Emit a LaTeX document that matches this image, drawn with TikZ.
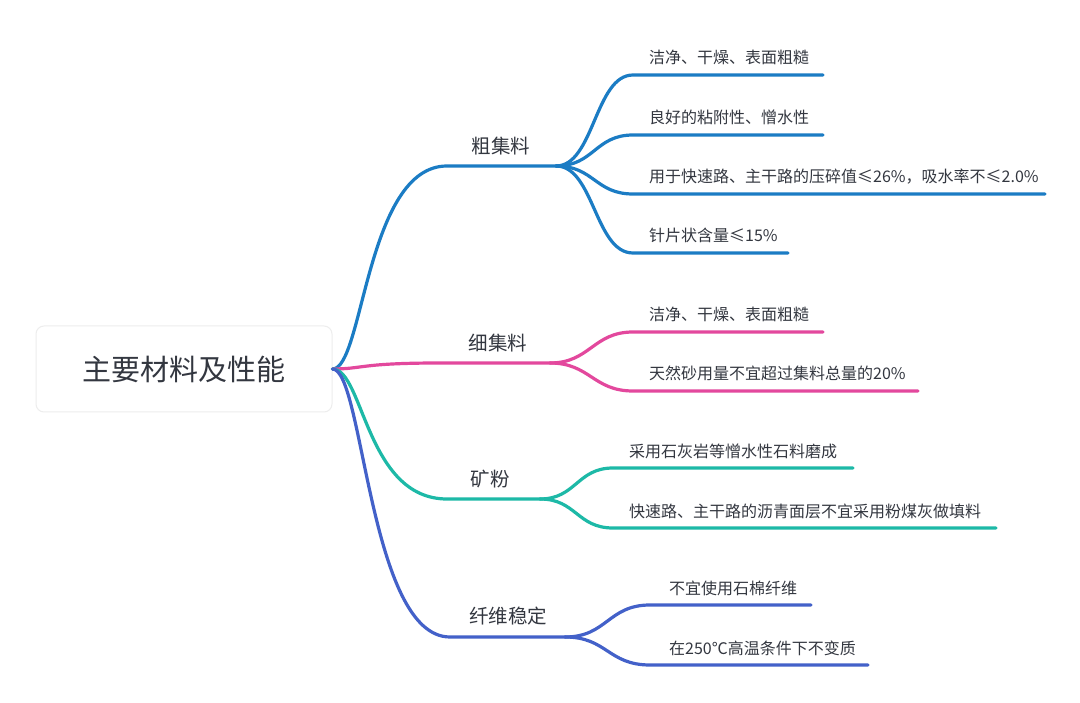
\documentclass[tikz,border=0pt]{standalone}
\usepackage{fontspec}
\newfontfamily\cjk{Noto Sans CJK SC}
\definecolor{txtgray}{HTML}{333740}
\definecolor{cublue}{HTML}{1B7CC4}
\definecolor{xipink}{HTML}{E3489D}
\definecolor{kfteal}{HTML}{1DB9A7}
\definecolor{xwindigo}{HTML}{4361C9}
\tikzset{
  branch/.style={line width=3.2pt, line cap=round},
  rootbox/.style={draw=black!7, line width=1pt, fill=white, rounded corners=8pt,
    minimum width=296pt, minimum height=86pt, inner sep=0pt,
    font=\cjk\fontsize{29}{30}\selectfont, text=txtgray},
  lvone/.style={anchor=base, inner sep=0pt,
    font=\cjk\fontsize{19.5}{20}\selectfont, text=txtgray},
  leaf/.style={anchor=base west, inner sep=0pt,
    font=\cjk\fontsize{16}{18}\selectfont, text=txtgray}
}
\begin{document}
\begin{tikzpicture}[x=1pt, y=-1pt]
  \useasboundingbox[fill=white] (0,0) rectangle (1080,703);

  \node[rootbox] (root) at (184,369) {主要材料及性能};

  \node[lvone] (cu) at (501,153.5) {粗集料};
  \coordinate (cu-in) at (447,166);
  \coordinate (cu-out) at (556,166);
  \draw[branch, cublue] (root.east) .. controls +(31,0) and +(-81,0) .. (cu-in) -- (cu-out);
  \foreach \i/\ly/\lx/\txt in {%
    1/75/823/{洁净、干燥、表面粗糙},
    2/135/823/{良好的粘附性、憎水性},
    3/194/1045/{用于快速路、主干路的压碎值≤26\%，吸水率不≤2.0\%},
    4/253/788/{针片状含量≤15\%}}{
    \coordinate (cu-\i-in) at (633,\ly);
    \coordinate (cu-\i-out) at (\lx,\ly);
    \node[leaf] (cu-\i) at (649,\ly-11) {\txt};
    \draw[branch, cublue] (cu-out) .. controls +(38,0) and +(-38,0) .. (cu-\i-in) -- (cu-\i-out);
  }

  \node[lvone] (xi) at (498,350.5) {细集料};
  \coordinate (xi-in) at (440,363);
  \coordinate (xi-out) at (550,363);
  \draw[branch, xipink] (root.east) .. controls +(31,0) and +(-81,0) .. (xi-in) -- (xi-out);
  \foreach \i/\ly/\lx/\txt in {%
    1/332/823/{洁净、干燥、表面粗糙},
    2/391/918/{天然砂用量不宜超过集料总量的20\%}}{
    \coordinate (xi-\i-in) at (633,\ly);
    \coordinate (xi-\i-out) at (\lx,\ly);
    \node[leaf] (xi-\i) at (649,\ly-11) {\txt};
    \draw[branch, xipink] (xi-out) .. controls +(40,0) and +(-40,0) .. (xi-\i-in) -- (xi-\i-out);
  }

  \node[lvone] (kf) at (490,486.5) {矿粉};
  \coordinate (kf-in) at (447,499);
  \coordinate (kf-out) at (540,499);
  \draw[branch, kfteal] (root.east) .. controls +(31,0) and +(-81,0) .. (kf-in) -- (kf-out);
  \foreach \i/\ly/\lx/\txt in {%
    1/468/853/{采用石灰岩等憎水性石料磨成},
    2/528/996/{快速路、主干路的沥青面层不宜采用粉煤灰做填料}}{
    \coordinate (kf-\i-in) at (613,\ly);
    \coordinate (kf-\i-out) at (\lx,\ly);
    \node[leaf] (kf-\i) at (629,\ly-11) {\txt};
    \draw[branch, kfteal] (kf-out) .. controls +(36,0) and +(-36,0) .. (kf-\i-in) -- (kf-\i-out);
  }

  \node[lvone] (xw) at (508,623.5) {纤维稳定};
  \coordinate (xw-in) at (450,637);
  \coordinate (xw-out) at (565,637);
  \draw[branch, xwindigo] (root.east) .. controls +(31,0) and +(-81,0) .. (xw-in) -- (xw-out);
  \foreach \i/\ly/\lx/\txt in {%
    1/605/811/{不宜使用石棉纤维},
    2/665/868/{在250℃高温条件下不变质}}{
    \coordinate (xw-\i-in) at (650,\ly);
    \coordinate (xw-\i-out) at (\lx,\ly);
    \node[leaf] (xw-\i) at (669,\ly-11) {\txt};
    \draw[branch, xwindigo] (xw-out) .. controls +(42,0) and +(-42,0) .. (xw-\i-in) -- (xw-\i-out);
  }
\end{tikzpicture}
\end{document}
